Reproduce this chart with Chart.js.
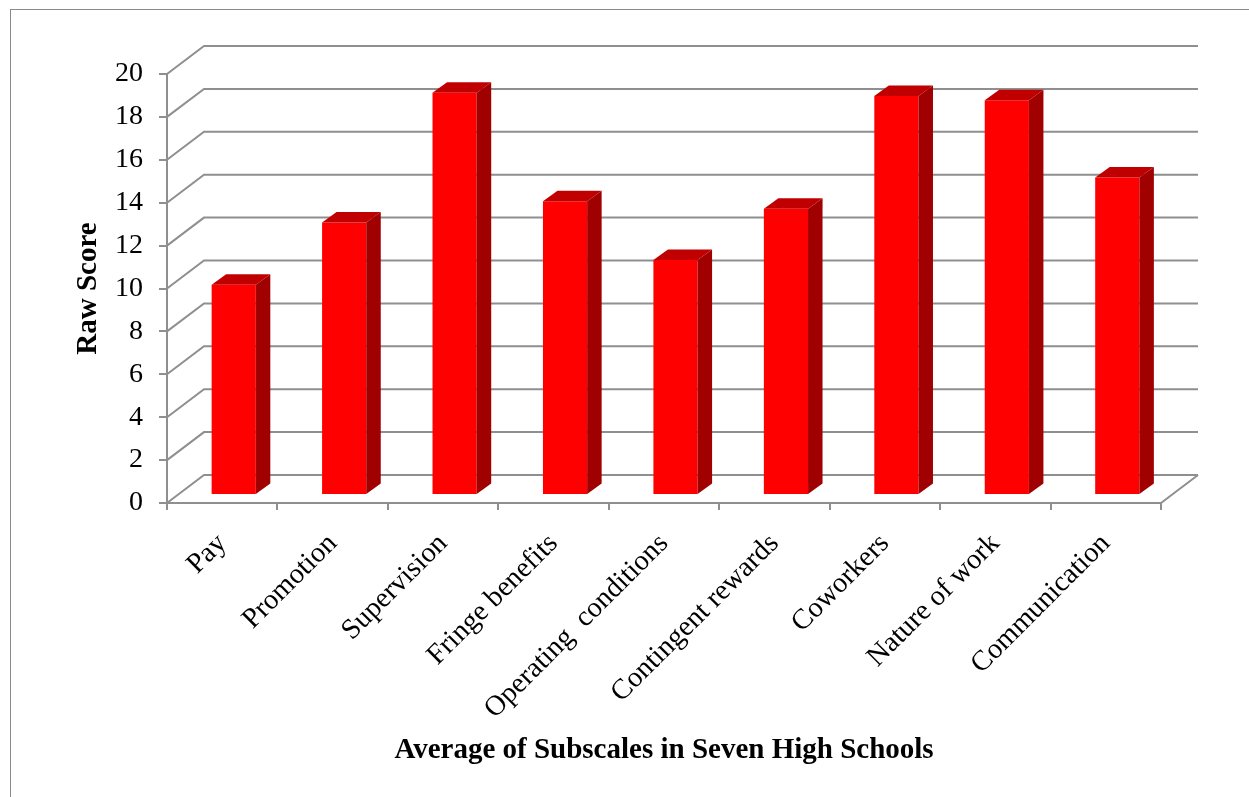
<!DOCTYPE html>
<html>
<head>
<meta charset="utf-8">
<script src="https://cdn.jsdelivr.net/npm/chart.js@4/dist/chart.umd.min.js"></script>
<style>
  html, body { margin: 0; padding: 0; background: #fff; }
  #wrap { position: relative; width: 1249px; height: 797px; }
  #frame { position: absolute; left: 10px; top: 9px; right: 0; bottom: 0; border-top: 1px solid #8a8a8a; border-left: 1px solid #8a8a8a; pointer-events: none; }
</style>
</head>
<body>
<div id="wrap">
  <canvas id="scoreChart"></canvas>
  <div id="frame"></div>
</div>
<script>
const categories = ['Pay', 'Promotion', 'Supervision', 'Fringe benefits', 'Operating  conditions',
  'Contingent rewards', 'Coworkers', 'Nature of work', 'Communication'];
const rawScores = [9.8, 12.7, 18.75, 13.7, 10.95, 13.35, 18.6, 18.4, 14.8];
const yMin = 0;
const yMax = 20;
const yStep = 2;

const gridColor = '#8f8f8f';
const serif = 'Liberation Serif';

// oblique offsets: back wall, bar plane, bar depth
const WALL_DX = 37, WALL_DY = -28;
const BAR_DX = 11.5, BAR_DY = -8;
const DEPTH_DX = 14.5, DEPTH_DY = -10.5;

const depth3d = {
  id: 'depth3d',
  beforeDatasetsDraw(chart) {
    const ctx = chart.ctx;
    const { left, right } = chart.chartArea;
    const y = chart.scales.y;
    ctx.save();
    ctx.strokeStyle = gridColor;
    ctx.lineWidth = 2;
    ctx.beginPath();
    y.ticks.forEach(t => {
      const py = y.getPixelForValue(t.value);
      ctx.moveTo(left, py);
      ctx.lineTo(left + WALL_DX, py + WALL_DY);
      ctx.lineTo(right + WALL_DX, py + WALL_DY);
    });
    const p0 = y.getPixelForValue(yMin);
    ctx.moveTo(right, p0);
    ctx.lineTo(right + WALL_DX, p0 + WALL_DY);
    ctx.stroke();
    ctx.restore();

    ctx.save();
    ctx.translate(BAR_DX, BAR_DY);
  },
  afterDatasetsDraw(chart) {
    const ctx = chart.ctx;
    chart.getDatasetMeta(0).data.forEach(bar => {
      const l = bar.x - bar.width / 2;
      const r = bar.x + bar.width / 2;
      const top = bar.y, base = bar.base;
      ctx.fillStyle = '#c00000';
      ctx.beginPath();
      ctx.moveTo(l, top);
      ctx.lineTo(l + DEPTH_DX, top + DEPTH_DY);
      ctx.lineTo(r + DEPTH_DX, top + DEPTH_DY);
      ctx.lineTo(r, top);
      ctx.closePath();
      ctx.fill();
      ctx.fillStyle = '#a00000';
      ctx.beginPath();
      ctx.moveTo(r, top);
      ctx.lineTo(r + DEPTH_DX, top + DEPTH_DY);
      ctx.lineTo(r + DEPTH_DX, base + DEPTH_DY);
      ctx.lineTo(r, base);
      ctx.closePath();
      ctx.fill();
    });
    ctx.restore();
  }
};

new Chart(document.getElementById('scoreChart'), {
  type: 'bar',
  data: {
    labels: categories,
    datasets: [{
      label: 'Raw Score',
      data: rawScores,
      backgroundColor: '#ff0000',
      borderWidth: 0,
      barPercentage: 0.4,
      categoryPercentage: 1,
      clip: false
    }]
  },
  options: {
    responsive: true,
    maintainAspectRatio: false,
    animation: false,
    layout: { padding: { top: 74, right: 88, bottom: 0, left: 0 } },
    plugins: {
      legend: { display: false },
      tooltip: { enabled: false }
    },
    scales: {
      x: {
        afterFit: s => { s.height = 294; },
        grid: { offset: true, drawOnChartArea: false, tickLength: 7, color: gridColor, lineWidth: 2 },
        border: { color: gridColor, width: 2 },
        ticks: {
          color: '#000',
          font: { family: serif, size: 28.5 },
          minRotation: 45,
          maxRotation: 45,
          padding: 17,
          labelOffset: 0
        },
        title: {
          display: true,
          text: 'Average of Subscales in Seven High Schools',
          color: '#000',
          font: { family: serif, size: 29, weight: 'bold' },
          padding: { top: 0, bottom: 29 }
        }
      },
      y: {
        min: yMin,
        max: yMax,
        afterFit: s => { s.width = 167; },
        grid: { drawOnChartArea: false, tickLength: 8, color: gridColor, lineWidth: 2 },
        border: { color: gridColor, width: 2 },
        ticks: {
          stepSize: yStep,
          color: '#000',
          font: { family: serif, size: 28 },
          padding: 16
        },
        title: {
          display: true,
          text: 'Raw Score',
          color: '#000',
          font: { family: serif, size: 29, weight: 'bold' },
          padding: { top: 71, bottom: 0 }
        }
      }
    }
  },
  plugins: [depth3d]
});
</script>
</body>
</html>
